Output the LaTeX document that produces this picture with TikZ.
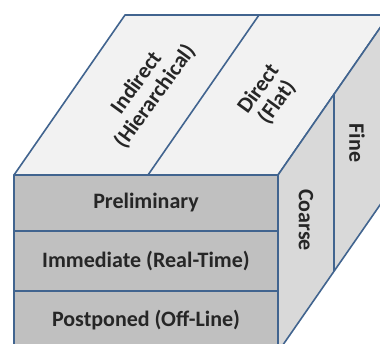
\documentclass[tikz,border=0pt]{standalone}
\usepackage{fontspec}
\setmainfont{Carlito}
\usepackage{tikz}
\usetikzlibrary{positioning}
\definecolor{edgeblue}{HTML}{41648F}
\definecolor{topgray}{HTML}{F2F2F2}
\definecolor{sidegray}{HTML}{D9D9D9}
\definecolor{frontgray}{HTML}{C0C0C0}
\definecolor{labelgray}{HTML}{262626}
\begin{document}
\begin{tikzpicture}[x=1pt,y=-1pt]
\tikzstyle{every node}+=[inner sep=0pt,text=labelgray,font=\fontsize{22}{23}\selectfont\bfseries,align=center]
\tikzset{face/.style={draw=edgeblue,line width=1.6pt,line join=round}}
\useasboundingbox (0,0) rectangle (380,343);
\clip (0,0) rectangle (380,343);
\fill [white] (0,0) rectangle (380,343);
% corners of the cube
\coordinate (ftl) at (14,175);
\coordinate (ftr) at (278,175);
\coordinate (fbr) at (278,352);
\coordinate (fbl) at (14,352);
\coordinate (btl) at (125,15);
\coordinate (btr) at (389,15);
\coordinate (bbr) at (389,192);
% top face
\draw [face,fill=topgray] (ftl) -- (btl) -- (btr) -- (ftr) -- cycle;
\coordinate (tdf) at (148,175);
\coordinate (tdb) at (259,15);
\draw [face] (tdf) -- (tdb);
\draw (146,90) node [rotate=54] (indirect) {Indirect\\(Hierarchical)};
\draw (268,96) node [rotate=54] (direct) {Direct\\(Flat)};
% right face
\draw [face,fill=sidegray] (ftr) -- (btr) -- (bbr) -- (fbr) -- cycle;
\coordinate (rdt) at (334,94);
\coordinate (rdb) at (334,271);
\draw [face] (rdt) -- (rdb);
\draw (306,220) node [rotate=-90] (coarse) {Coarse};
\draw (357,143) node [rotate=-90] (fine) {Fine};
% front face
\draw [face,fill=frontgray] (ftl) rectangle (fbr);
\coordinate (r1l) at (14,231);
\coordinate (r1r) at (278,231);
\coordinate (r2l) at (14,291);
\coordinate (r2r) at (278,291);
\draw [face] (r1l) -- (r1r);
\draw [face] (r2l) -- (r2r);
\draw (146,203) node (prelim) {Preliminary};
\draw (146,261) node (immediate) {Immediate (Real-Time)};
\draw (146,320) node (postponed) {Postponed (Off-Line)};
\end{tikzpicture}
\end{document}
